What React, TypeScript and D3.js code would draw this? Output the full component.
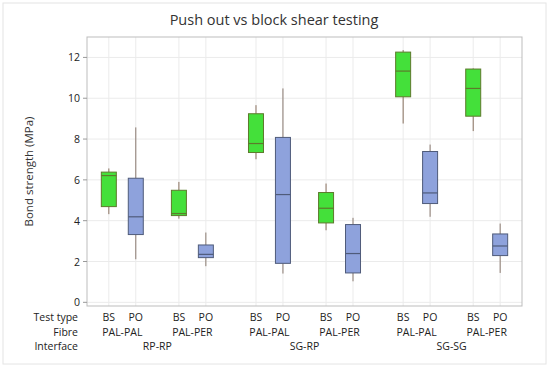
import { FC } from "react";
import * as d3 from "d3";

// box stats per group: [whisker low, q1, median, q3, whisker high]
const testTypes = ["BS", "PO", "BS", "PO", "BS", "PO", "BS", "PO", "BS", "PO", "BS", "PO"];
const fibres = ["PAL-PAL", "PAL-PER", "PAL-PAL", "PAL-PER", "PAL-PAL", "PAL-PER"];
const interfaces = ["RP-RP", "SG-RP", "SG-SG"];
const whiskerLow = [4.32, 2.11, 4.1, 1.77, 7.01, 1.41, 3.53, 1.03, 8.76, 4.19, 8.39, 1.44];
const q1 = [4.69, 3.32, 4.25, 2.19, 7.34, 1.91, 3.89, 1.44, 10.07, 4.84, 9.12, 2.29];
const median = [6.21, 4.19, 4.35, 2.35, 7.78, 5.28, 4.61, 2.39, 11.33, 5.36, 10.48, 2.76];
const q3 = [6.38, 6.08, 5.49, 2.81, 9.24, 8.08, 5.38, 3.81, 12.26, 7.39, 11.43, 3.35];
const whiskerHigh = [6.56, 8.57, 5.9, 3.42, 9.66, 10.48, 5.82, 4.14, 12.36, 7.73, 11.46, 3.86];
const yTicks = [0, 2, 4, 6, 8, 10, 12];
const rowNames = ["Test type", "Fibre", "Interface"];

const width = 550,
  height = 368,
  left = 87,
  right = 522,
  top = 37,
  bottom = 306,
  boxHalf = 7.5,
  rowY = [321, 335.5, 350],
  font = "'Open Sans', 'Noto Sans', sans-serif";

// slot positions: pairs 1 apart, pairs 1.6 apart, interface groups 1.86 apart
const slots: number[] = [];
{
  let p = 0;
  testTypes.forEach((_, i) => {
    slots.push(p);
    if (i % 2 === 0) p += 1;
    else if (i % 4 === 1) p += 1.6;
    else p += 1.86;
  });
}

const x = d3.scaleLinear().domain([-0.81, slots[slots.length - 1] + 0.81]).range([left, right]);
const y = d3.scaleLinear().domain([-0.18, 13]).range([bottom, top]);

const App: FC = () => {
  return (
    <svg width={width} height={height} style={{ display: "block", position: "absolute", left: 0, top: 0 }}>
      <rect x={0} y={0} width={width} height={height} fill="#fff" />
      <rect x={3} y={3} width={543} height={361} fill="#fff" stroke="#e4e4e4" />
      <text x={274} y={25} textAnchor="middle" fontFamily={font} fontSize={14.5} fill="#333">
        Push out vs block shear testing
      </text>

      {/* grid */}
      {yTicks.map((t) => (
        <line key={"gy" + t} x1={left} x2={right} y1={y(t)} y2={y(t)} stroke="#ebebeb" />
      ))}
      {slots.map((s, i) => (
        <line key={"gx" + i} x1={x(s)} x2={x(s)} y1={top} y2={bottom} stroke="#ebebeb" />
      ))}
      <rect x={left} y={top} width={right - left} height={bottom - top} fill="none" stroke="#bdbdbd" />

      {/* y axis */}
      {yTicks.map((t) => (
        <g key={"yt" + t}>
          <line x1={left - 4} x2={left} y1={y(t)} y2={y(t)} stroke="#999" />
          <text x={left - 7} y={y(t) + 4} textAnchor="end" fontFamily={font} fontSize={10.5} fill="#222">
            {t}
          </text>
        </g>
      ))}
      <text
        transform={`translate(33,${(top + bottom) / 2}) rotate(-90)`}
        textAnchor="middle"
        fontFamily={font}
        fontSize={11.5}
        fill="#333"
      >
        Bond strength (MPa)
      </text>

      {/* boxes */}
      {slots.map((s, i) => {
        const cx = x(s);
        const bs = testTypes[i] === "BS";
        const fill = bs ? "#44e03a" : "#8ea2dc";
        const stroke = bs ? "#5d7a2c" : "#4f5b7a";
        const whisk = bs ? "#8a7260" : "#8a7a70";
        return (
          <g key={"b" + i}>
            <line x1={cx} x2={cx} y1={y(whiskerHigh[i])} y2={y(q3[i])} stroke={whisk} />
            <line x1={cx} x2={cx} y1={y(q1[i])} y2={y(whiskerLow[i])} stroke={whisk} />
            <rect
              x={cx - boxHalf}
              y={y(q3[i])}
              width={boxHalf * 2}
              height={y(q1[i]) - y(q3[i])}
              fill={fill}
              stroke={stroke}
            />
            <line x1={cx - boxHalf} x2={cx + boxHalf} y1={y(median[i])} y2={y(median[i])} stroke={stroke} strokeWidth={1.2} />
          </g>
        );
      })}

      {/* category rows */}
      {rowNames.map((r, k) => (
        <text key={r} x={78} y={rowY[k]} textAnchor="end" fontFamily={font} fontSize={10.5} fill="#222">
          {r}
        </text>
      ))}
      {testTypes.map((t, i) => (
        <text key={"tt" + i} x={x(slots[i])} y={rowY[0]} textAnchor="middle" fontFamily={font} fontSize={10.5} fill="#222">
          {t}
        </text>
      ))}
      {fibres.map((f, j) => (
        <text
          key={"fb" + j}
          x={(x(slots[j * 2]) + x(slots[j * 2 + 1])) / 2}
          y={rowY[1]}
          textAnchor="middle"
          fontFamily={font}
          fontSize={10.5}
          fill="#222"
        >
          {f}
        </text>
      ))}
      {interfaces.map((f, j) => (
        <text
          key={"if" + j}
          x={(x(slots[j * 4]) + x(slots[j * 4 + 3])) / 2}
          y={rowY[2]}
          textAnchor="middle"
          fontFamily={font}
          fontSize={10.5}
          fill="#222"
        >
          {f}
        </text>
      ))}
    </svg>
  );
};

export default App;
